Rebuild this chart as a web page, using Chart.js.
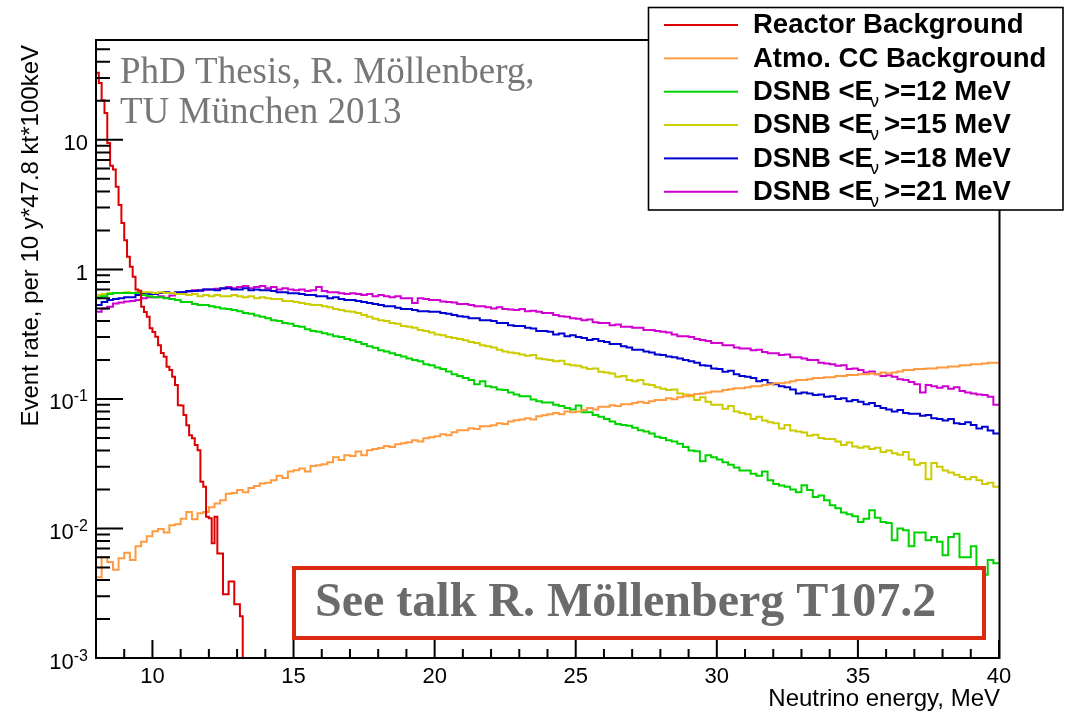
<!DOCTYPE html>
<html>
<head>
<meta charset="utf-8">
<script src="https://cdn.jsdelivr.net/npm/chart.js@4.4.0/dist/chart.umd.min.js"></script>
<style>
  html, body { margin: 0; padding: 0; background: #fff; }
  canvas { display: block; }
</style>
</head>
<body>
<canvas id="spectrum" width="1065" height="712"></canvas>
<script>
// Energy axis (MeV) and binning
const energyMin = 8;
const energyMax = 40;
const reactorBinWidth = 0.1;
const spectrumBinWidth = 0.2;

// Event rate axis range
const rateMin = 1e-3;
const rateMax = 59;

// Tick labels
const xTickValues = [10, 15, 20, 25, 30, 35, 40];
const yDecades = [-3, -2, -1, 0, 1];

// Reactor antineutrino background, 0.1 MeV bins from 8 MeV
const reactorBackground = [
  33.0, 27.5, 20.2, 16.1, 9.45, 6.3, 5.9, 4.35, 3.14, 2.28,
  1.68, 1.25, 1.05, 0.877, 0.70, 0.685, 0.514, 0.468, 0.43, 0.352,
  0.328, 0.302, 0.26, 0.226, 0.212, 0.177, 0.167, 0.148, 0.128, 0.0895,
  0.089, 0.075, 0.0627, 0.0525, 0.0498, 0.044, 0.0402, 0.0229, 0.021, 0.0123,
  0.012, 0.0077, 0.0123, 0.0064, 0.0064, 0.0031, 0.0031, 0.0039, 0.0039, 0.0026,
  0.0026, 0.0021, 0
];

// Atmospheric CC background, 0.2 MeV bins from 8 MeV
const atmoCCBackground = [
  0.0042, 0.0060, 0.0055, 0.0048, 0.0059,
  0.0065, 0.0057, 0.0073, 0.0079, 0.0087,
  0.0095, 0.0099, 0.0093, 0.0106, 0.0108,
  0.0119, 0.0134, 0.0118, 0.0131, 0.0134,
  0.0146, 0.0156, 0.0165, 0.0185, 0.0188,
  0.0198, 0.0190, 0.0205, 0.0213, 0.0222,
  0.0225, 0.0236, 0.0255, 0.0245, 0.0275,
  0.0282, 0.0290, 0.0275, 0.0303, 0.0308,
  0.0313, 0.0325, 0.0355, 0.0337, 0.0368,
  0.0362, 0.0392, 0.0368, 0.0402, 0.0410,
  0.0418, 0.0433, 0.0425, 0.0447, 0.0455,
  0.0463, 0.0480, 0.0470, 0.0497, 0.0505,
  0.0515, 0.0534, 0.0525, 0.0553, 0.0574,
  0.0574, 0.0595, 0.0585, 0.0614, 0.0614,
  0.0627, 0.0650, 0.0640, 0.0670, 0.0685,
  0.0695, 0.0710, 0.0695, 0.0735, 0.0749,
  0.0760, 0.0780, 0.0760, 0.0800, 0.0790,
  0.0800, 0.0820, 0.0850, 0.0830, 0.0870,
  0.0870, 0.0895, 0.0880, 0.0910, 0.0910,
  0.0930, 0.0950, 0.0930, 0.0960, 0.0980,
  0.0980, 0.1010, 0.0995, 0.1030, 0.1050,
  0.107, 0.109, 0.110, 0.112, 0.114,
  0.114, 0.117, 0.119, 0.121, 0.121,
  0.123, 0.125, 0.125, 0.128, 0.130,
  0.132, 0.132, 0.134, 0.137, 0.140,
  0.140, 0.142, 0.145, 0.145, 0.147,
  0.147, 0.150, 0.150, 0.153, 0.153,
  0.155, 0.155, 0.157, 0.155, 0.160,
  0.157, 0.160, 0.163, 0.167, 0.167,
  0.170, 0.170, 0.172, 0.172, 0.175,
  0.175, 0.178, 0.178, 0.182, 0.182,
  0.185, 0.185, 0.188, 0.190, 0.190
];

// DSNB spectra for mean energies 12, 15, 18 and 21 MeV, 0.2 MeV bins from 8 MeV
const dsnb12 = [
  0.61, 0.62, 0.645, 0.656, 0.656,
  0.656, 0.656, 0.656, 0.633, 0.62,
  0.61, 0.61, 0.60, 0.59, 0.58,
  0.56, 0.56, 0.54, 0.53, 0.53,
  0.52, 0.51, 0.50, 0.495, 0.485,
  0.475, 0.46, 0.455, 0.44, 0.43,
  0.42, 0.405, 0.40, 0.385, 0.38,
  0.365, 0.36, 0.345, 0.335, 0.33,
  0.322, 0.315, 0.305, 0.30, 0.29,
  0.284, 0.275, 0.265, 0.255, 0.248,
  0.238, 0.232, 0.225, 0.218, 0.213,
  0.205, 0.20, 0.195, 0.185, 0.182,
  0.175, 0.17, 0.163, 0.155, 0.15,
  0.145, 0.14, 0.13, 0.137, 0.125,
  0.123, 0.118, 0.117, 0.112, 0.108,
  0.105, 0.105, 0.099, 0.096, 0.094,
  0.094, 0.09, 0.088, 0.085, 0.083,
  0.089, 0.079, 0.079, 0.075, 0.073,
  0.07, 0.067, 0.064, 0.063, 0.062,
  0.06, 0.0574, 0.056, 0.054, 0.051,
  0.05, 0.048, 0.047, 0.045, 0.0425,
  0.040, 0.0395, 0.033, 0.0368, 0.0355,
  0.034, 0.0325, 0.031, 0.0295, 0.028,
  0.028, 0.0265, 0.0255, 0.0275, 0.0236,
  0.022, 0.0215, 0.021, 0.020, 0.019,
  0.0216, 0.0198, 0.0175, 0.018, 0.0165,
  0.0151, 0.0143, 0.0133, 0.0129, 0.0124,
  0.0112, 0.0119, 0.0138, 0.0121, 0.0112,
  0.0110, 0.0081, 0.0100, 0.0097, 0.0073,
  0.0093, 0.0093, 0.0081, 0.0086, 0.0079,
  0.0062, 0.0086, 0.0091, 0.0060, 0.0060,
  0.0073, 0.0048, 0.0044, 0.0057, 0.0054
];

const dsnb15 = [
  0.633, 0.645, 0.656, 0.656, 0.656,
  0.665, 0.656, 0.665, 0.665, 0.665,
  0.656, 0.665, 0.656, 0.656, 0.645,
  0.645, 0.633, 0.645, 0.62, 0.633,
  0.62, 0.633, 0.62, 0.62, 0.633,
  0.62, 0.61, 0.62, 0.60, 0.61,
  0.60, 0.59, 0.59, 0.57, 0.57,
  0.56, 0.55, 0.54, 0.53, 0.53,
  0.52, 0.51, 0.495, 0.485, 0.475,
  0.47, 0.46, 0.445, 0.43, 0.415,
  0.405, 0.40, 0.385, 0.38, 0.365,
  0.36, 0.355, 0.34, 0.335, 0.325,
  0.315, 0.31, 0.30, 0.295, 0.29,
  0.284, 0.275, 0.27, 0.26, 0.255,
  0.25, 0.24, 0.232, 0.228, 0.225,
  0.22, 0.215, 0.218, 0.205, 0.202,
  0.20, 0.195, 0.197, 0.185, 0.182,
  0.18, 0.175, 0.17, 0.172, 0.162,
  0.16, 0.157, 0.148, 0.15, 0.14,
  0.137, 0.14, 0.13, 0.128, 0.123,
  0.12, 0.117, 0.118, 0.11, 0.108,
  0.105, 0.098, 0.103, 0.095, 0.09,
  0.09, 0.084, 0.088, 0.08, 0.078,
  0.076, 0.07, 0.073, 0.068, 0.066,
  0.065, 0.059, 0.063, 0.057, 0.056,
  0.055, 0.052, 0.053, 0.05, 0.049,
  0.049, 0.047, 0.044, 0.046, 0.043,
  0.042, 0.043, 0.041, 0.042, 0.039,
  0.04, 0.038, 0.037, 0.039, 0.034,
  0.031, 0.032, 0.024, 0.032, 0.03,
  0.028, 0.027, 0.026, 0.025, 0.024,
  0.025, 0.0236, 0.022, 0.0225, 0.021
];

const dsnb18 = [
  0.53, 0.56, 0.58, 0.59, 0.60,
  0.61, 0.61, 0.635, 0.645, 0.645,
  0.645, 0.656, 0.665, 0.656, 0.665,
  0.665, 0.68, 0.68, 0.69, 0.70,
  0.70, 0.69, 0.715, 0.715, 0.70,
  0.70, 0.715, 0.69, 0.70, 0.69,
  0.69, 0.68, 0.665, 0.665, 0.655,
  0.655, 0.645, 0.635, 0.635, 0.62,
  0.62, 0.60, 0.61, 0.59, 0.58,
  0.58, 0.57, 0.56, 0.55, 0.54,
  0.53, 0.52, 0.52, 0.505, 0.495,
  0.495, 0.485, 0.475, 0.475, 0.47,
  0.47, 0.46, 0.455, 0.445, 0.435,
  0.43, 0.42, 0.42, 0.405, 0.405,
  0.40, 0.385, 0.385, 0.37, 0.365,
  0.365, 0.355, 0.35, 0.335, 0.335,
  0.33, 0.315, 0.32, 0.305, 0.31,
  0.30, 0.295, 0.285, 0.29, 0.28,
  0.275, 0.265, 0.265, 0.255, 0.25,
  0.24, 0.24, 0.232, 0.228, 0.22,
  0.218, 0.213, 0.21, 0.205, 0.20,
  0.195, 0.19, 0.182, 0.18, 0.172,
  0.17, 0.162, 0.165, 0.155, 0.15,
  0.148, 0.145, 0.137, 0.14, 0.132,
  0.13, 0.125, 0.123, 0.118, 0.11,
  0.112, 0.11, 0.107, 0.108, 0.104,
  0.105, 0.10, 0.101, 0.096, 0.098,
  0.095, 0.091, 0.093, 0.088, 0.085,
  0.083, 0.08, 0.082, 0.078, 0.077,
  0.077, 0.074, 0.075, 0.071, 0.07,
  0.068, 0.07, 0.065, 0.064, 0.066,
  0.063, 0.059, 0.061, 0.057, 0.054
];

const dsnb21 = [
  0.47, 0.50, 0.515, 0.545, 0.555,
  0.565, 0.57, 0.58, 0.60, 0.61,
  0.61, 0.62, 0.605, 0.63, 0.65,
  0.665, 0.675, 0.69, 0.68, 0.70,
  0.70, 0.71, 0.71, 0.73, 0.715,
  0.73, 0.745, 0.715, 0.73, 0.745,
  0.715, 0.73, 0.70, 0.715, 0.70,
  0.69, 0.70, 0.68, 0.69, 0.73,
  0.68, 0.665, 0.665, 0.655, 0.645,
  0.655, 0.645, 0.635, 0.645, 0.62,
  0.635, 0.62, 0.61, 0.62, 0.60,
  0.60, 0.55, 0.60, 0.59, 0.58,
  0.58, 0.565, 0.56, 0.555, 0.54,
  0.54, 0.53, 0.52, 0.52, 0.51,
  0.50, 0.51, 0.495, 0.49, 0.485,
  0.495, 0.475, 0.48, 0.47, 0.46,
  0.46, 0.445, 0.435, 0.43, 0.42,
  0.415, 0.405, 0.41, 0.39, 0.385,
  0.385, 0.37, 0.375, 0.36, 0.36,
  0.355, 0.355, 0.34, 0.34, 0.335,
  0.33, 0.325, 0.315, 0.305, 0.305,
  0.30, 0.29, 0.285, 0.28, 0.27,
  0.27, 0.26, 0.26, 0.25, 0.245,
  0.245, 0.238, 0.24, 0.23, 0.225,
  0.225, 0.218, 0.22, 0.21, 0.21,
  0.205, 0.20, 0.20, 0.19, 0.188,
  0.185, 0.18, 0.182, 0.17, 0.172,
  0.167, 0.16, 0.163, 0.155, 0.15,
  0.152, 0.148, 0.142, 0.14, 0.135,
  0.13, 0.112, 0.128, 0.125, 0.122,
  0.125, 0.12, 0.123, 0.115, 0.112,
  0.11, 0.108, 0.107, 0.104, 0.09
];

// Legend entries
const backgroundLabels = ['Reactor Background', 'Atmo. CC Background'];
const dsnbMeanEnergies = [12, 15, 18, 21];
const seriesColors = ['#dd0000', '#ff9a40', '#00d400', '#cccc00', '#0000d0', '#d000d0'];

// Canvas layout of the plot frame (pixels)
const frameLeft = 96, frameRight = 999, frameTop = 40, frameBottom = 658;

// Turns bin contents into a histogram outline (one flat step per bin)
function histogramOutline(values, binWidth) {
  const pts = [];
  values.forEach((v, i) => {
    const lo = energyMin + i * binWidth;
    const hi = energyMin + (i + 1) * binWidth;
    const y = v > 0 ? v : rateMin; // empty bins sit on the axis floor
    pts.push({ x: lo, y: y }, { x: hi, y: y });
  });
  return pts;
}

// Inward tick marks as short segments in data units, separated by gaps
function tickSegments() {
  const mevPerPx = (energyMax - energyMin) / (frameRight - frameLeft);
  const decadesPerPx = (Math.log10(rateMax) - Math.log10(rateMin)) / (frameBottom - frameTop);
  const pts = [];
  yDecades.forEach(k => {
    for (let m = 1; m <= 9; m++) {
      const v = m * Math.pow(10, k);
      if (v > rateMax) break;
      const len = (m === 1 ? 27 : 14) * mevPerPx;
      pts.push({ x: energyMin, y: v }, { x: energyMin + len, y: v }, { x: energyMin + len, y: null });
    }
  });
  for (let e = energyMin; e <= energyMax; e++) {
    const top = rateMin * Math.pow(10, (e % 5 === 0 ? 18 : 9) * decadesPerPx);
    pts.push({ x: e, y: rateMin }, { x: e, y: top }, { x: e + 0.01, y: null });
  }
  return pts;
}

const seriesData = [
  histogramOutline(reactorBackground, reactorBinWidth),
  histogramOutline(atmoCCBackground, spectrumBinWidth),
  histogramOutline(dsnb12, spectrumBinWidth),
  histogramOutline(dsnb15, spectrumBinWidth),
  histogramOutline(dsnb18, spectrumBinWidth),
  histogramOutline(dsnb21, spectrumBinWidth)
];

const SANS = '"Liberation Sans", Arial, Helvetica, sans-serif';
const SERIF = '"Liberation Serif", "Times New Roman", serif';

// Axes, titles, annotations and legend in the ROOT style
const rootFrame = {
  id: 'rootFrame',
  afterDraw(chart) {
    const ctx = chart.ctx;
    const xs = chart.scales.x;
    const ys = chart.scales.y;
    const a = chart.chartArea;
    ctx.save();
    ctx.fillStyle = '#000';

    // frame and axis lines
    ctx.fillRect(a.left - 1, a.top - 1, a.right - a.left + 2, 2);
    ctx.fillRect(a.right - 0.5, a.top - 1, 2, a.bottom - a.top + 2);
    ctx.fillRect(a.left - 1, a.top - 1, 2, a.bottom - a.top + 2);
    ctx.fillRect(a.left - 1, a.bottom - 1, a.right - a.left + 2, 2);

    // x tick labels
    ctx.font = '22px ' + SANS;
    ctx.textAlign = 'center';
    ctx.textBaseline = 'alphabetic';
    xTickValues.forEach(v => {
      ctx.fillText(String(v), xs.getPixelForValue(v), 683);
    });

    // y tick labels, powers of ten with superscript exponents
    const labelRight = 88;
    yDecades.forEach(k => {
      const py = ys.getPixelForValue(Math.pow(10, k));
      const base = py + 10.5;
      ctx.textAlign = 'right';
      if (k === 0 || k === 1) {
        ctx.font = '22px ' + SANS;
        ctx.fillText(k === 0 ? '1' : '10', labelRight, base);
      } else {
        const exp = String(k);
        ctx.font = '16px ' + SANS;
        const ew = ctx.measureText(exp).width;
        ctx.fillText(exp, labelRight, base - 8);
        ctx.font = '22px ' + SANS;
        ctx.fillText('10', labelRight - ew, base);
      }
    });

    // axis titles
    ctx.font = '24px ' + SANS;
    ctx.textAlign = 'right';
    ctx.fillText('Neutrino energy, MeV', 1000, 706);
    ctx.save();
    ctx.translate(38, 45);
    ctx.rotate(-Math.PI / 2);
    ctx.textAlign = 'right';
    ctx.fillText('Event rate, per 10 y*47.8 kt*100keV', 0, 0);
    ctx.restore();

    // thesis credit
    ctx.fillStyle = '#777777';
    ctx.font = '37px ' + SERIF;
    ctx.textAlign = 'left';
    ctx.fillText('PhD Thesis, R. Möllenberg,', 120, 83);
    ctx.fillText('TU München 2013', 120, 123);

    // talk reference box
    ctx.fillStyle = '#fff';
    ctx.fillRect(294, 568, 690, 70);
    ctx.strokeStyle = '#dc2a10';
    ctx.lineWidth = 4;
    ctx.strokeRect(294, 568, 690, 70);
    ctx.fillStyle = '#6b6b6b';
    ctx.font = 'bold 48px ' + SERIF;
    ctx.fillText('See talk R. Möllenberg T107.2', 315, 616);

    // legend
    ctx.fillStyle = '#fff';
    ctx.fillRect(648.5, 7.5, 414.5, 202.5);
    ctx.strokeStyle = '#000';
    ctx.lineWidth = 1.6;
    ctx.strokeRect(648.5, 7.5, 414.5, 202.5);
    const rowBase = i => 33.3 + 33.35 * i;
    seriesColors.forEach((color, i) => {
      const b = rowBase(i);
      ctx.fillStyle = color;
      ctx.fillRect(664, b - 9.3, 74, 2);
      ctx.fillStyle = '#000';
      ctx.textAlign = 'left';
      ctx.font = 'bold 27.5px ' + SANS;
      if (i < backgroundLabels.length) {
        ctx.fillText(backgroundLabels[i], 753, b);
      } else {
        const head = 'DSNB <E';
        const w1 = ctx.measureText(head).width;
        ctx.fillText(head, 753, b);
        ctx.fillText('>=' + dsnbMeanEnergies[i - backgroundLabels.length] + ' MeV', 753 + w1 + 11, b);
        ctx.font = '18px ' + SANS;
        ctx.fillText('\u03BD', 753 + w1 - 3, b + 7);
      }
    });

    ctx.restore();
  }
};

const allLabels = backgroundLabels.concat(dsnbMeanEnergies.map(e => 'DSNB <Eν>=' + e + ' MeV'));

// Tick marks first so they are painted on top of the spectra
const datasets = [{
  label: 'ticks',
  data: tickSegments(),
  borderColor: '#000000',
  borderWidth: 2,
  pointRadius: 0,
  fill: false,
  tension: 0,
  spanGaps: false,
  clip: 4
}].concat(seriesData.map((pts, i) => ({
  label: allLabels[i],
  data: pts,
  borderColor: seriesColors[i],
  backgroundColor: seriesColors[i],
  borderWidth: 2,
  pointRadius: 0,
  fill: false,
  tension: 0
})));

new Chart(document.getElementById('spectrum'), {
  type: 'line',
  data: { datasets: datasets },
  options: {
    responsive: false,
    animation: false,
    devicePixelRatio: 1,
    layout: { padding: { left: frameLeft, right: 1065 - frameRight, top: frameTop, bottom: 712 - frameBottom } },
    plugins: {
      legend: { display: false },
      tooltip: { enabled: false }
    },
    scales: {
      x: { type: 'linear', min: energyMin, max: energyMax, display: false },
      y: { type: 'logarithmic', min: rateMin, max: rateMax, display: false }
    }
  },
  plugins: [rootFrame]
});
</script>
</body>
</html>
